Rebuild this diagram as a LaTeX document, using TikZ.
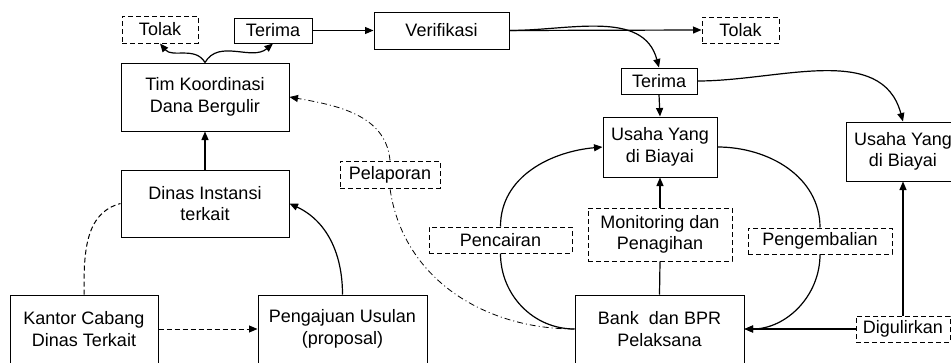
\documentclass[tikz,border=0pt]{standalone}
\usepackage{fontspec}
\setmainfont{Liberation Sans}
\usetikzlibrary{arrows.meta}
\begin{document}
\begin{tikzpicture}[x=1pt,y=-1pt,
  box/.style={draw, line width=1pt, align=center, inner sep=0pt, font=\fontsize{18}{21.6}\selectfont},
  dbox/.style={box, dash pattern=on 5pt off 3pt},
  tip/.style={-{Triangle[length=8.5pt,width=7pt]}},
  conn/.style={line width=1.2pt, tip},
  plain/.style={line width=1.2pt},
  dconn/.style={line width=1pt, dash pattern=on 5pt off 3pt},
  ddconn/.style={line width=0.8pt, dash pattern=on 6pt off 3pt on 1pt off 3pt}
]
\useasboundingbox (0,0) rectangle (951,362);
\clip (0,0) rectangle (951,362);

% nodes
\node[dbox, minimum width=76pt, minimum height=27pt] (tolakL) at (160,29.5) {Tolak};
\node[box, minimum width=78pt, minimum height=25pt] (terimaL) at (273,30.5) {Terima};
\node[box, minimum width=135pt, minimum height=37pt] (verif) at (441.5,30.5) {Verifikasi};
\node[dbox, minimum width=77pt, minimum height=26pt] (tolakR) at (740.5,30) {Tolak};
\node[box, minimum width=168pt, minimum height=68pt] (tim) at (205,97) {Tim Koordinasi\\Dana Bergulir};
\node[box, minimum width=168pt, minimum height=67pt] (dinas) at (205,203.5) {Dinas Instansi\\terkait};
\node[dbox, minimum width=100pt, minimum height=27pt] (pelaporan) at (390,174.5) {Pelaporan};
\node[box, minimum width=148pt, minimum height=68pt] (kantor) at (84,329) {Kantor Cabang\\Dinas Terkait};
\node[box, minimum width=169pt, minimum height=68pt] (pengajuan) at (342.5,329) {Pengajuan Usulan\\(proposal)};
\node[box, minimum width=76pt, minimum height=26pt] (terimaR) at (659,81) {Terima};
\node[box, minimum width=114pt, minimum height=60pt] (usahaM) at (660,147) {Usaha Yang\\di Biayai};
\node[box, minimum width=114pt, minimum height=59pt] (usahaR) at (903,151.5) {Usaha Yang\\di Biayai};
\node[dbox, minimum width=143pt, minimum height=26pt] (pencairan) at (500.5,240) {Pencairan};
\node[dbox, minimum width=144pt, minimum height=53pt] (monitoring) at (660,234.5) {Monitoring dan\\Penagihan};
\node[dbox, minimum width=144pt, minimum height=26pt] (pengembalian) at (820,241) {Pengembalian};
\node[box, minimum width=169pt, minimum height=68pt] (bank) at (659.5,329) {Bank\ \ dan BPR\\Pelaksana};
\node[dbox, minimum width=94pt, minimum height=26pt] (digulirkan) at (903,329) {Digulirkan};

% connectors
\draw[conn] (tim.north) to[out=120,in=-50] (tolakL.south);
\draw[conn] (tim.north) to[out=60,in=-140] (terimaL.south);
\draw[conn] (terimaL.east) -- (verif.west);
\draw[conn] (verif.east) -- (tolakR.west);
\draw[conn] (verif.east) to[out=0,in=105] (terimaR.north);
\draw[conn] (terimaR.south) -- (usahaM.north);
\draw[conn] (terimaR.east) to[out=0,in=105] (usahaR.north);
\draw[conn] (dinas.north) -- (tim.south);
\draw[conn] (pengajuan.north) to[out=90,in=-25] (dinas.east);
\draw[dconn, tip] (kantor.east) -- (pengajuan.west);
\draw[dconn] (kantor.north) to[out=90,in=195] (dinas.west);
\draw[ddconn] (bank.west) to[out=180,in=-82] (pelaporan.south);
\draw[ddconn, tip] (pelaporan.north) to[out=95,in=-10] (tim.east);
\draw[plain] (bank.west) to[out=180,in=-90] (pencairan.south);
\draw[conn] (pencairan.north) to[out=90,in=185] (usahaM.west);
\draw[plain] (usahaM.east) to[out=0,in=90] (pengembalian.north);
\draw[conn] (pengembalian.south) to[out=-90,in=0] (bank.east);
\draw[plain] (bank.north) -- (monitoring.south);
\draw[conn] (monitoring.north) -- (usahaM.south);
\draw[conn] (digulirkan.west) -- (bank.east);
\draw[conn] (digulirkan.north) -- (usahaR.south);
\end{tikzpicture}
\end{document}
